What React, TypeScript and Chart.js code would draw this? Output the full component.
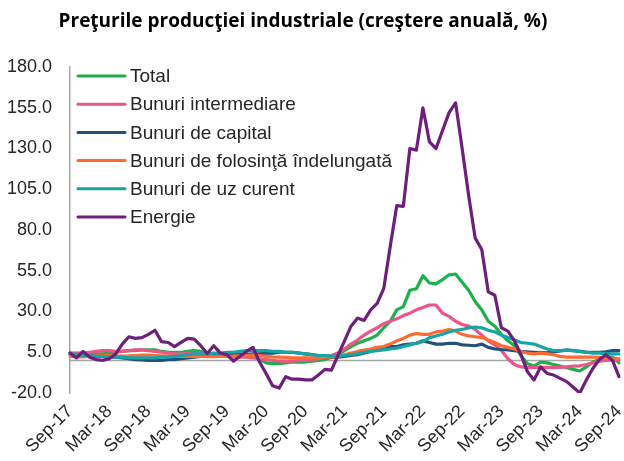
import React, { useEffect, useRef } from "react";
import { Chart, registerables } from "chart.js";

Chart.register(...registerables);

const TITLE = "Preţurile producţiei industriale (creştere anuală, %)";

const CATEGORIES = [
  "Sep-17", "Oct-17", "Nov-17", "Dec-17",
  "Jan-18", "Feb-18", "Mar-18", "Apr-18", "May-18", "Jun-18", "Jul-18", "Aug-18", "Sep-18", "Oct-18", "Nov-18", "Dec-18",
  "Jan-19", "Feb-19", "Mar-19", "Apr-19", "May-19", "Jun-19", "Jul-19", "Aug-19", "Sep-19", "Oct-19", "Nov-19", "Dec-19",
  "Jan-20", "Feb-20", "Mar-20", "Apr-20", "May-20", "Jun-20", "Jul-20", "Aug-20", "Sep-20", "Oct-20", "Nov-20", "Dec-20",
  "Jan-21", "Feb-21", "Mar-21", "Apr-21", "May-21", "Jun-21", "Jul-21", "Aug-21", "Sep-21", "Oct-21", "Nov-21", "Dec-21",
  "Jan-22", "Feb-22", "Mar-22", "Apr-22", "May-22", "Jun-22", "Jul-22", "Aug-22", "Sep-22", "Oct-22", "Nov-22", "Dec-22",
  "Jan-23", "Feb-23", "Mar-23", "Apr-23", "May-23", "Jun-23", "Jul-23", "Aug-23", "Sep-23", "Oct-23", "Nov-23", "Dec-23",
  "Jan-24", "Feb-24", "Mar-24", "Apr-24", "May-24", "Jun-24", "Jul-24", "Aug-24", "Sep-24",
];

const TICK_LABELS = [
  "Sep-17", "Mar-18", "Sep-18", "Mar-19", "Sep-19", "Mar-20", "Sep-20", "Mar-21",
  "Sep-21", "Mar-22", "Sep-22", "Mar-23", "Sep-23", "Mar-24", "Sep-24",
];

const Y_MIN = -20;
const Y_MAX = 180;
const Y_STEP = 25;

const TOTAL = [
  4.5, 4.5, 4.5, 4.2, 4, 4, 4.5, 5, 5.5, 6,
  6, 6.5, 6.5, 6.5, 5.5, 5, 5, 5, 5.5, 6,
  5.5, 4.5, 4, 3.5, 3.5, 3, 3, 3, 2.5, 0.5,
  -1.5, -2, -2, -1.5, -1, -1, -1, -0.5, 0, 0.5,
  2, 3.5, 6, 8.5, 10.5, 12, 13.5, 15.5, 20, 24,
  31, 33, 43, 44, 52, 47.5, 47, 49.5, 52.5, 53,
  48, 43, 36, 31, 24, 21, 16, 12, 9, 3,
  -2, -3.5, -1, -1.5, -2.5, -3.5, -4.5, -5.5, -6.5, -4,
  -1, 0.5, 1.5, 2, -1.5,
];

const INTERMEDIARE = [
  4, 4, 4.5, 5, 5.5, 6, 6, 5.5, 5.5, 6,
  6.5, 6.5, 6, 5.5, 5, 4.5, 4, 4, 4.5, 4.5,
  4.5, 4, 3.5, 3, 2.5, 2, 2, 2, 1.5, 1,
  0.5, 0, -0.5, -0.5, -0.5, 0, 0, 0.5, 1, 2,
  3, 4.5, 7, 10, 12.5, 15.5, 18, 20, 22.5, 24,
  25.5, 27.5, 29, 31, 32.5, 34, 34, 29, 27, 24,
  22, 21, 19, 15.5, 12, 9.5, 6, 1, -2.5, -4,
  -4.4, -4.3, -4.2, -4.3, -4.4, -4.3, -4, -3.5, -3.3, -2.5,
  -1.5, -0.5, 0, 0.3, 0,
];

const CAPITAL = [
  3.5, 3.5, 3, 3, 2.5, 2.5, 2, 2, 1.5, 1,
  0.5, 0.3, 0, 0, 0, 0.5, 0.5, 1, 1.5, 2,
  2.5, 3, 3, 3, 3.5, 3.5, 3.5, 3.5, 4, 4,
  4.5, 4.5, 5, 5, 5, 4.5, 4, 3.5, 3, 2.5,
  2, 2, 2.5, 3, 3.5, 4.5, 5.5, 7, 8, 8.5,
  8.5, 9.5, 10, 10.5, 12, 11, 10, 10, 10.5, 10.5,
  9.5, 9.3, 9, 10, 8, 7, 6.7, 6.5, 6, 5.5,
  5.2, 5, 4.8, 4.6, 5.2, 5.8, 6.3, 6, 5.5, 5,
  5, 5, 5.2, 6, 6,
];

const FOLOSINTA = [
  2.5, 2.3, 2.2, 2.5, 2.8, 3, 3, 2.8, 2.7, 2.8,
  3, 3.2, 3.2, 3, 2.8, 2.6, 2.5, 2.5, 2.6, 2.5,
  2.4, 2.3, 2.3, 2.4, 2.5, 2.6, 2.8, 3, 3.2, 3,
  2.5, 2.2, 2, 1.8, 1.6, 1.5, 1.5, 1.6, 1.8, 2,
  2.2, 2.5, 3.5, 4.5, 5.5, 6.3, 7, 8, 8.5, 10,
  12, 13.5, 15.5, 16.5, 16, 16, 17.5, 18, 19, 18,
  16, 15, 14.5, 14, 12.5, 11, 9, 8, 7, 5.5,
  4.5, 4, 4.5, 4, 3.5, 2.5, 2, 2, 2, 2,
  2, 1.8, 1.5, 1.3, 1,
];

const UZ_CURENT = [
  4, 3.5, 3, 3, 2.5, 2.5, 2, 2, 2, 1.5,
  1.5, 1.5, 1.5, 1.5, 2, 2, 2.5, 3, 3.5, 4,
  4, 4, 4.5, 4.5, 5, 5, 5.5, 6, 6, 6,
  6, 5.5, 5.5, 5, 5, 4.5, 4, 3.5, 3, 3,
  2.7, 2.8, 3, 3.5, 4, 5, 5.5, 6, 6.5, 7,
  7.5, 8.5, 9.5, 10.5, 11.5, 14, 15, 16, 17.5, 18.5,
  19, 20, 20.5, 20, 18.5, 17.5, 15.5, 14, 12.5, 11,
  10.5, 10, 8.5, 7, 6, 6, 6.3, 6, 5.5, 5,
  4.5, 4.5, 4, 4, 4,
];

const ENERGIE = [
  4.6, 1.5, 5.5, 2, 0.5, 0, 1, 4, 10, 14.5,
  13.5, 14, 16, 18.5, 11.5, 11, 8.5, 11, 13.5, 13,
  9, 4.2, 9, 4.5, 3.5, -0.5, 2.5, 5.5, 8, -1,
  -8, -15.5, -17, -10, -11.5, -11.5, -12, -12, -9, -5.5,
  -6, 3, 12, 21, 26, 24.5, 31, 35, 44, 70,
  95, 94.5, 130, 129, 155, 134, 130, 141, 152, 158,
  130, 101, 75, 68, 42, 40, 20, 18, 12, 3.5,
  -7, -12, -4, -8, -9, -11, -13, -16.5, -20, -12,
  -5, 0.5, 3.5, 0, -10,
];

const SERIES_NAMES = [
  "Total",
  "Bunuri intermediare",
  "Bunuri de capital",
  "Bunuri de folosinţă îndelungată",
  "Bunuri de uz curent",
  "Energie",
];
const SERIES_DATA = [TOTAL, INTERMEDIARE, CAPITAL, FOLOSINTA, UZ_CURENT, ENERGIE];
const SERIES_COLORS = ["#1BB04A", "#EC5588", "#23507A", "#FF6A33", "#16A4A7", "#6E1F7C"];

const FONT = "'Liberation Sans', Arial, sans-serif";
const TEXT_COLOR = "#262626";
const AXIS_COLOR = "#A6A6A6";

const decorPlugin = {
  id: "decor",
  beforeDatasetsDraw(chart: any) {
    const { ctx, chartArea, scales } = chart;
    const y0 = scales.y.getPixelForValue(0);
    ctx.save();
    ctx.strokeStyle = AXIS_COLOR;
    ctx.lineWidth = 1.5;
    ctx.beginPath();
    ctx.moveTo(chartArea.left, y0);
    ctx.lineTo(chartArea.right, y0);
    ctx.stroke();
    ctx.restore();
  },
  afterDraw(chart: any) {
    const { ctx } = chart;
    ctx.save();
    ctx.fillStyle = "#000";
    ctx.font = "bold 19px 'Open Sans', Lato, sans-serif";
    ctx.textAlign = "center";
    ctx.textBaseline = "middle";
    ctx.fillText(TITLE, 303, 22);

    const x0 = 78;
    const x1 = 125;
    const yStart = 76;
    const gap = 28.2;
    ctx.font = "19px " + FONT;
    ctx.textAlign = "left";
    ctx.textBaseline = "middle";
    SERIES_NAMES.forEach((name, i) => {
      const y = yStart + i * gap;
      ctx.strokeStyle = SERIES_COLORS[i];
      ctx.lineWidth = 3;
      ctx.lineCap = "round";
      ctx.beginPath();
      ctx.moveTo(x0, y);
      ctx.lineTo(x1, y);
      ctx.stroke();
      ctx.fillStyle = TEXT_COLOR;
      ctx.fillText(name, 130, y + 1);
    });
    ctx.restore();
  },
};

export default function App() {
  const ref = useRef<HTMLCanvasElement>(null);

  useEffect(() => {
    if (!ref.current) return;
    const chart = new Chart(ref.current, {
      type: "line",
      data: {
        labels: CATEGORIES,
        datasets: SERIES_NAMES.map((name, i) => ({
          label: name,
          data: SERIES_DATA[i],
          borderColor: SERIES_COLORS[i],
          backgroundColor: SERIES_COLORS[i],
          borderWidth: 3.2,
          pointRadius: 0,
          tension: 0,
          fill: false,
          order: SERIES_NAMES.length - i,
          borderJoinStyle: "round" as const,
          borderCapStyle: "round" as const,
        })),
      },
      options: {
        animation: false,
        responsive: false,
        maintainAspectRatio: false,
        layout: { padding: { top: 67, right: 5, bottom: 0, left: 0 } },
        plugins: {
          legend: { display: false },
          title: { display: false },
          tooltip: { enabled: false },
        },
        scales: {
          x: {
            type: "category",
            offset: false,
            grid: { display: false, drawTicks: false },
            border: { display: false },
            ticks: {
              autoSkip: false,
              maxRotation: 45,
              minRotation: 45,
              padding: 8,
              color: TEXT_COLOR,
              font: { family: FONT, size: 18 },
              callback: (_v: any, i: number) =>
                TICK_LABELS.includes(CATEGORIES[i]) ? CATEGORIES[i] : "",
            },
            afterFit: (s: any) => {
              s.height = 68;
              s.paddingLeft = 0;
              s.paddingRight = 0;
            },
          },
          y: {
            min: Y_MIN,
            max: Y_MAX,
            grid: { display: false, drawTicks: false },
            border: { display: true, color: AXIS_COLOR, width: 1.5 },
            ticks: {
              stepSize: Y_STEP,
              padding: 18,
              color: TEXT_COLOR,
              font: { family: FONT, size: 18 },
              callback: (v: any) => Number(v).toFixed(1),
            },
            afterFit: (s: any) => {
              s.width = 70;
            },
          },
        },
      },
      plugins: [decorPlugin],
    });
    return () => chart.destroy();
  }, []);

  return (
    <div style={{ position: "fixed", left: 0, top: 0, width: 624, height: 461, background: "#fff" }}>
      <canvas ref={ref} width={624} height={461} style={{ width: 624, height: 461, display: "block" }} />
    </div>
  );
}
